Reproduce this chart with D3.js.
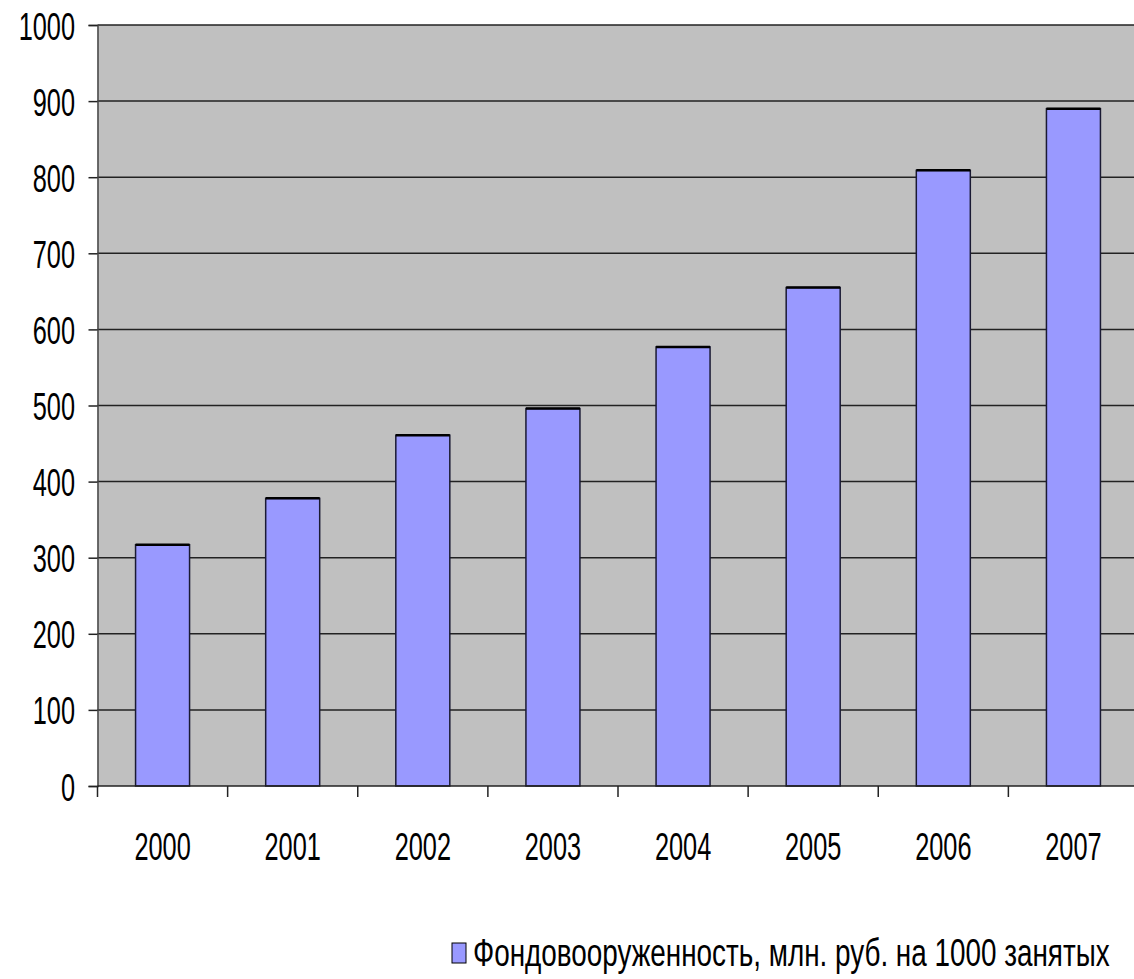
<!DOCTYPE html>
<html>
<head>
<meta charset="utf-8">
<script src="https://cdn.jsdelivr.net/npm/d3@7"></script>
<style>
  html, body { margin: 0; padding: 0; background: #fff; }
  svg { display: block; }
  text { font-family: "Liberation Sans", Arial, sans-serif; fill: #000; }
</style>
</head>
<body>
<svg id="chart" width="1134" height="979"></svg>
<script>
const years = ["2000", "2001", "2002", "2003", "2004", "2005", "2006", "2007"];
const values = [317, 378, 461, 496, 577, 655, 809, 890];
const yTicks = [0, 100, 200, 300, 400, 500, 600, 700, 800, 900, 1000];
const seriesName = "Фондовооруженность, млн. руб. на 1000 занятых";

const svg = d3.select("#chart");
const pLeft = 97.5, pRight = 1138.5, pTop = 25, pBottom = 786;

const x = d3.scaleBand().domain(years).range([pLeft, pRight]).paddingInner(0.585).paddingOuter(0.2925);
const xb = d3.scaleBand().domain(years).range([pLeft, pRight]).padding(0);
const y = d3.scaleLinear().domain([0, 1000]).range([pBottom, pTop]);

// plot background
svg.append("rect").attr("x", pLeft).attr("y", pTop)
  .attr("width", Math.min(pRight, 1134) - pLeft).attr("height", pBottom - pTop).attr("fill", "#C0C0C0");

// gridlines
svg.append("g").selectAll("line").data(yTicks.filter(d => d > 0)).join("line")
  .attr("x1", pLeft).attr("x2", Math.min(pRight, 1134))
  .attr("y1", d => y(d)).attr("y2", d => y(d))
  .attr("stroke", "#222").attr("stroke-width", 1.5);

// y axis
const yAxis = d3.axisLeft(y).tickValues(yTicks).tickSize(9).tickFormat("");
const gy = svg.append("g").attr("transform", `translate(${pLeft},0)`).call(yAxis);
gy.select(".domain").attr("stroke", "#444").attr("stroke-width", 1.5);
gy.selectAll(".tick line").attr("stroke", "#222").attr("stroke-width", 1.5);

svg.append("g").selectAll("g").data(yTicks).join("g")
  .attr("transform", d => `translate(75,${y(d) + 14.5}) scale(0.65,1)`)
  .append("text").attr("text-anchor", "end").attr("font-size", 39).text(d => d);

// bars
const bars = svg.append("g").selectAll("g").data(years).join("g");
bars.append("rect")
  .attr("x", d => x(d)).attr("width", x.bandwidth())
  .attr("y", (d, i) => y(values[i])).attr("height", (d, i) => y(0) - y(values[i]))
  .attr("fill", "#9999FF").attr("stroke", "#1a1a33").attr("stroke-width", 1.5);
bars.append("line")
  .attr("x1", d => x(d)).attr("x2", d => x(d) + x.bandwidth())
  .attr("y1", (d, i) => y(values[i])).attr("y2", (d, i) => y(values[i]))
  .attr("stroke", "#000").attr("stroke-width", 2.5);

// x axis
const xTickPos = years.map(d => xb(d)).filter(d => d <= 1134);
svg.append("line").attr("x1", pLeft).attr("x2", Math.min(pRight, 1134)).attr("y1", pBottom).attr("y2", pBottom)
  .attr("stroke", "#222").attr("stroke-width", 1.5);
svg.append("g").selectAll("line").data(xTickPos).join("line")
  .attr("x1", d => d).attr("x2", d => d).attr("y1", pBottom).attr("y2", pBottom + 11)
  .attr("stroke", "#222").attr("stroke-width", 1.5);

svg.append("g").selectAll("g").data(years).join("g")
  .attr("transform", d => `translate(${xb(d) + xb.bandwidth() / 2},860) scale(0.65,1)`)
  .append("text").attr("text-anchor", "middle").attr("font-size", 39).text(d => d);

// legend
svg.append("rect").attr("x", 452).attr("y", 943).attr("width", 14).attr("height", 20)
  .attr("fill", "#9999FF").attr("stroke", "#000").attr("stroke-width", 1);
const lg = svg.append("g");
const lt = lg.append("text").attr("x", 0).attr("y", 0).attr("font-size", 39).text(seriesName);
const natural = lt.node().getComputedTextLength();
lg.attr("transform", `translate(473,966) scale(${637 / natural},1)`);
</script>
</body>
</html>
